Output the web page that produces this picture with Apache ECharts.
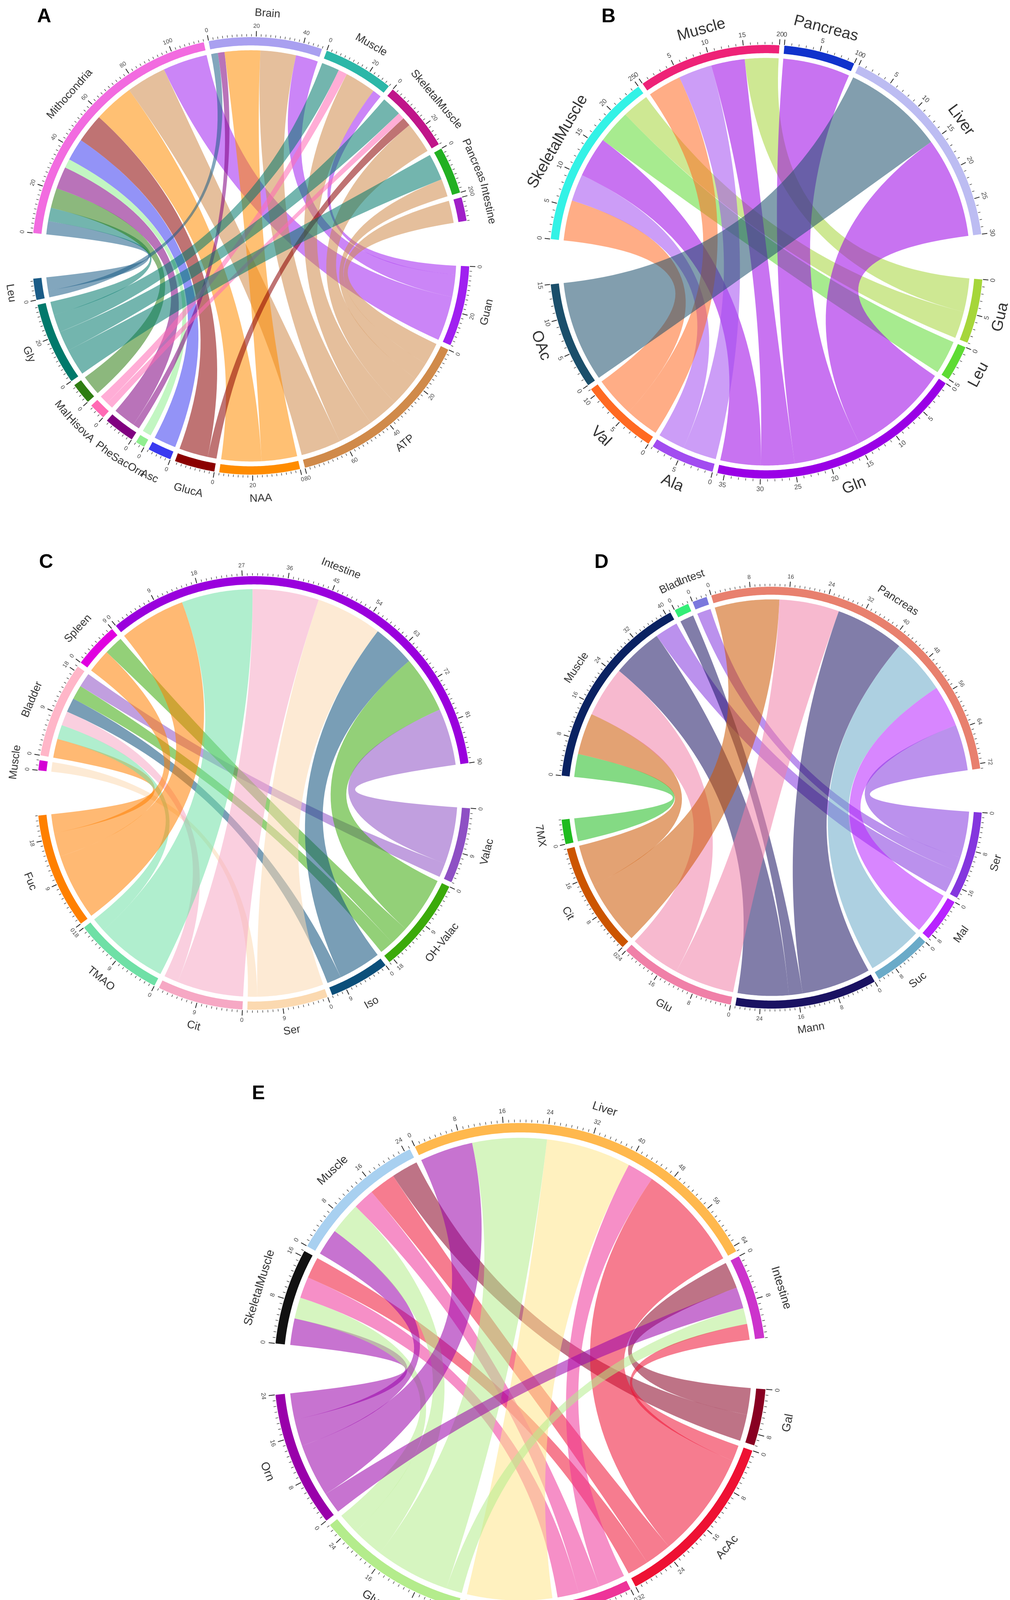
<!DOCTYPE html>
<html><head><meta charset="utf-8">
<script src="https://cdn.jsdelivr.net/npm/echarts@6/dist/echarts.min.js"></script>
<style>html,body{margin:0;padding:0;background:#fff}#c{width:2586px;height:4198px}</style>
</head><body><div id="c"></div>
<script>
// ---------- Panel A ----------
const A_top = ['Mithocondria','Brain','Muscle','SkeletalMuscle','Pancreas','Intestine'];
const A_topColors = ['#F26BE0','#A9A0F0','#2BB7A8','#C0158A','#22B022','#A01FC8'];
const A_bottom = ['Guan','ATP','NAA','GlucA','Asc','SacOrn','Phe','HisovA','Mal','Gly','Leu'];
const A_bottomColors = ['#A020F0','#D08A4A','#FF8C00','#8B0000','#3A3AF0','#90EE90','#800080','#FF69B4','#2E7D12','#00796B','#1B5C87'];
const A_links = [
 ['Mithocondria','Leu',6],['Mithocondria','Gly',6],['Mithocondria','Mal',9],['Mithocondria','Phe',10],
 ['Mithocondria','SacOrn',4],['Mithocondria','Asc',10],['Mithocondria','GlucA',13],['Mithocondria','NAA',18],
 ['Mithocondria','ATP',18],['Mithocondria','Guan',20],
 ['Brain','Leu',3],['Brain','Phe',3],['Brain','NAA',16],['Brain','ATP',16],['Brain','Guan',10],
 ['Muscle','Gly',8],['Muscle','HisovA',4],['Muscle','ATP',14],['Muscle','Guan',4],
 ['SkeletalMuscle','Gly',9],['SkeletalMuscle','HisovA',3],['SkeletalMuscle','GlucA',4],['SkeletalMuscle','ATP',14],
 ['Pancreas','Gly',12],['Pancreas','ATP',8],
 ['Intestine','ATP',10]
];
// ---------- Panel B ----------
const B_top = ['SkeletalMuscle','Muscle','Pancreas','Liver'];
const B_topColors = ['#33F2E6','#EE2277','#1133CC','#BCBCF2'];
const B_bottom = ['Gua','Leu','Gln','Ala','Val','OAc'];
const B_bottomColors = ['#A6D63A','#5EDB33','#9A00E6','#A24CF0','#FF6A22','#1B4F6B'];
const B_links = [
 ['SkeletalMuscle','Val',6],['SkeletalMuscle','Ala',4],['SkeletalMuscle','Gln',6],['SkeletalMuscle','Leu',5],['SkeletalMuscle','Gua',4],
 ['Muscle','Val',5],['Muscle','Ala',5],['Muscle','Gln',5],['Muscle','Gua',5],
 ['Pancreas','Gln',10],
 ['Liver','OAc',15],['Liver','Gln',15]
];
// ---------- Panel C ----------
const C_top = ['Muscle','Bladder','Spleen','Intestine'];
const C_topColors = ['#D400D4','#FFB6C8','#E000E0','#9A00DD'];
const C_bottom = ['Valac','OH-Valac','Iso','Ser','Cit','TMAO','Fuc'];
const C_bottomColors = ['#8E50C4','#3BAA0A','#0B4F7A','#FBD9B0','#F6A8C4','#6FE0A6','#FF8000'];
const C_links = [
 ['Muscle','Ser',2],
 ['Bladder','Fuc',4],['Bladder','TMAO',3],['Bladder','Cit',3],['Bladder','Iso',3],['Bladder','OH-Valac',3],['Bladder','Valac',3],
 ['Spleen','Fuc',5],['Spleen','OH-Valac',4],
 ['Intestine','Fuc',14],['Intestine','TMAO',15],['Intestine','Cit',14],['Intestine','Ser',14],['Intestine','Iso',9],['Intestine','OH-Valac',12],['Intestine','Valac',12]
];
// ---------- Panel D ----------
const D_top = ['Muscle','Blad.','Intest','Pancreas'];
const D_topColors = ['#0A2262','#33EE77','#7A78DD','#E8806E'];
const D_bottom = ['Ser','Mal','Suc','Mann','Glu','Cit','7MX'];
const D_bottomColors = ['#8436DE','#B822FF','#6AAAC8','#1A1262','#F080A8','#CC5500','#1FBB1F'];
const D_links = [
 ['Muscle','7MX',5],['Muscle','Cit',9],['Muscle','Glu',11],['Muscle','Mann',11],['Muscle','Ser',5],
 ['Blad.','Mann',3],
 ['Intest','Ser',3],
 ['Pancreas','Cit',14],['Pancreas','Glu',13],['Pancreas','Mann',15],['Pancreas','Suc',12],['Pancreas','Mal',9],['Pancreas','Ser',10]
];
// ---------- Panel E ----------
const E_top = ['SkeletalMuscle','Muscle','Liver','Intestine'];
const E_topColors = ['#111111','#A8D0F0','#FFB84D','#CC33CC'];
const E_bottom = ['Gal','AcAc','Val','Sorb','Glyc','Orn'];
const E_bottomColors = ['#880022','#EE1133','#EE3399','#FFE68A','#B4EC8C','#9900AA'];
const E_links = [
 ['SkeletalMuscle','Orn',5],['SkeletalMuscle','Glyc',4],['SkeletalMuscle','Val',4],['SkeletalMuscle','AcAc',4],
 ['Muscle','Orn',5],['Muscle','Glyc',6],['Muscle','Val',4],['Muscle','AcAc',5],['Muscle','Gal',5],
 ['Liver','Orn',10],['Liver','Glyc',14],['Liver','Sorb',16],['Liver','Val',5],['Liver','AcAc',20],
 ['Intestine','Gal',5],['Intestine','Orn',4],['Intestine','Glyc',3],['Intestine','AcAc',3]
];

const panels = [
 {tag:'A', top:A_top, tc:A_topColors, bot:A_bottom, bc:A_bottomColors, links:A_links, center:[642,655], R:560, major:20, minor:2, nameFont:28, tickFont:15, tagPos:[95,18]},
 {tag:'B', top:B_top, tc:B_topColors, bot:B_bottom, bc:B_bottomColors, links:B_links, center:[1962,670], R:555, major:5, minor:1, nameFont:40, tickFont:17, tagPos:[1540,18]},
 {tag:'C', top:C_top, tc:C_topColors, bot:C_bottom, bc:C_bottomColors, links:C_links, center:[650,2030], R:555, major:9, minor:1, nameFont:28, tickFont:15, tagPos:[100,1415]},
 {tag:'D', top:D_top, tc:D_topColors, bot:D_bottom, bc:D_bottomColors, links:D_links, center:[1975,2042], R:540, major:8, minor:1, nameFont:28, tickFont:15, tagPos:[1522,1415]},
 {tag:'E', top:E_top, tc:E_topColors, bot:E_bottom, bc:E_bottomColors, links:E_links, center:[1332,3505], R:630, major:8, minor:1, nameFont:30, tickFont:16, tagPos:[645,2775]}
];
const BIG = 12, SMALL = 1.3;

function layout(p){
  const topVal = p.top.map(n => p.links.filter(l=>l[0]===n).reduce((s,l)=>s+l[2],0));
  const botVal = p.bot.map(n => p.links.filter(l=>l[1]===n).reduce((s,l)=>s+l[2],0));
  const total = topVal.reduce((a,b)=>a+b,0)+botVal.reduce((a,b)=>a+b,0);
  const nSmall = p.top.length-1 + p.bot.length-1;
  const k = (360-2*BIG-nSmall*SMALL)/total;
  const sectors = []; let d = 0;
  p.top.forEach((n,i)=>{ sectors.push({name:n,color:p.tc[i],s:d,e:d+topVal[i]*k,val:topVal[i],top:true}); d += topVal[i]*k + SMALL; });
  d += BIG - SMALL;
  p.bot.forEach((n,i)=>{ sectors.push({name:n,color:p.bc[i],s:d,e:d+botVal[i]*k,val:botVal[i],top:false}); d += botVal[i]*k + SMALL; });
  const sec = {}; sectors.forEach(s=>sec[s.name + (s.top?'@t':'@b')] = s);
  const links = p.links.map(l=>({src:l[0],tgt:l[1],v:l[2]}));
  p.top.forEach(n=>{ let c = sec[n+'@t'].s; links.filter(l=>l.src===n).forEach(l=>{ l.a1=c; l.a2=c+l.v*k; c=l.a2; }); });
  p.bot.forEach(n=>{ const s = sec[n+'@b']; let c = s.s;
    links.filter(l=>l.tgt===n).sort((x,y)=>y.a1-x.a1).forEach(l=>{ l.b1=c; l.b2=c+l.v*k; c=l.b2; l.color=s.color; }); });
  return {sectors, links, k};
}

function textRot(theta){ // theta math degrees
  let t = ((theta % 360)+360)%360;
  if (t>180) t -= 360;
  const r = t>=0 ? t-90 : t+90;
  return r*Math.PI/180;
}

const option = {backgroundColor:'#fff', animation:false, polar:[], angleAxis:[], radiusAxis:[], series:[], graphic:[]};
panels.forEach((p,pi)=>{
  const L = layout(p);
  const startAngle = 180 - BIG/2;
  option.polar.push({center:p.center, radius:[0,p.R]});
  option.angleAxis.push({polarIndex:pi, type:'value', min:0, max:360, startAngle:startAngle, clockwise:true, show:false, splitLine:{show:false}, axisLine:{show:false}});
  option.radiusAxis.push({polarIndex:pi, type:'value', min:0, max:1, show:false, splitLine:{show:false}, axisLine:{show:false}});
  option.graphic.push({type:'text', left:p.tagPos[0], top:p.tagPos[1], style:{text:p.tag, font:'bold 50px "Liberation Sans", Arial', fill:'#000'}});
  const RC = 0.94;
  // chords
  option.series.push({type:'custom', coordinateSystem:'polar', polarIndex:pi, silent:true, clip:false,
    data: L.links.map((l,j)=>[0.5, j]),
    renderItem:(params, api)=>{
      const l = L.links[params.dataIndex];
      const C = api.coord([0, 0]);
      const pts = [];
      const arc = (a,b)=>{ const n = Math.max(2, Math.ceil(Math.abs(b-a)*2)); for(let i=0;i<=n;i++) pts.push(api.coord([RC, a+(b-a)*i/n])); };
      const bez = (P0,P1)=>{ for(let i=1;i<40;i++){ const t=i/40, u=1-t; pts.push([u*u*P0[0]+2*u*t*C[0]+t*t*P1[0], u*u*P0[1]+2*u*t*C[1]+t*t*P1[1]]); } };
      arc(l.a1,l.a2); bez(api.coord([RC,l.a2]), api.coord([RC,l.b1]));
      arc(l.b1,l.b2); bez(api.coord([RC,l.b2]), api.coord([RC,l.a1]));
      return {type:'polygon', shape:{points:pts}, style:{fill:l.color, opacity:0.55, stroke:null}};
    }});
  // sectors, ticks and labels
  option.series.push({type:'custom', coordinateSystem:'polar', polarIndex:pi, silent:true, clip:false,
    data: L.sectors.map((s,j)=>[0.5, j]),
    renderItem:(params, api)=>{
      const s = L.sectors[params.dataIndex];
      const children = [];
      const pts = []; const n = Math.max(2, Math.ceil((s.e-s.s)*2));
      for(let i=0;i<=n;i++) pts.push(api.coord([1.0, s.s+(s.e-s.s)*i/n]));
      for(let i=n;i>=0;i--) pts.push(api.coord([0.962, s.s+(s.e-s.s)*i/n]));
      children.push({type:'polygon', shape:{points:pts}, style:{fill:s.color}});
      // ticks
      for(let v=0; v<=s.val+1e-9; v+=p.minor){
        const d = s.s + v*L.k;
        const isMajor = Math.abs(v/p.major - Math.round(v/p.major))<1e-6;
        const P1 = api.coord([1.003, d]), P2 = api.coord([isMajor?1.028:1.014, d]);
        children.push({type:'line', shape:{x1:P1[0],y1:P1[1],x2:P2[0],y2:P2[1]}, style:{stroke:'#222', lineWidth:isMajor?2:1.2}});
        if(isMajor){
          const P = api.coord([1.05, d]);
          children.push({type:'text', x:P[0], y:P[1], rotation:textRot(startAngle-d),
            style:{text:String(Math.round(v)), fontSize:p.tickFont, fill:'#444', align:'center', verticalAlign:'middle', fontFamily:'Liberation Sans'}});
        }
      }
      const mid = (s.s+s.e)/2; const P = api.coord([1.11, mid]);
      children.push({type:'text', x:P[0], y:P[1], rotation:textRot(startAngle-mid),
        style:{text:s.name, fontSize:p.nameFont, fill:'#333', align:'center', verticalAlign:'middle', fontFamily:'Liberation Sans'}});
      return {type:'group', children};
    }});
});
const chart = echarts.init(document.getElementById('c'), null, {renderer:'canvas'});
chart.setOption(option);
</script></body></html>
